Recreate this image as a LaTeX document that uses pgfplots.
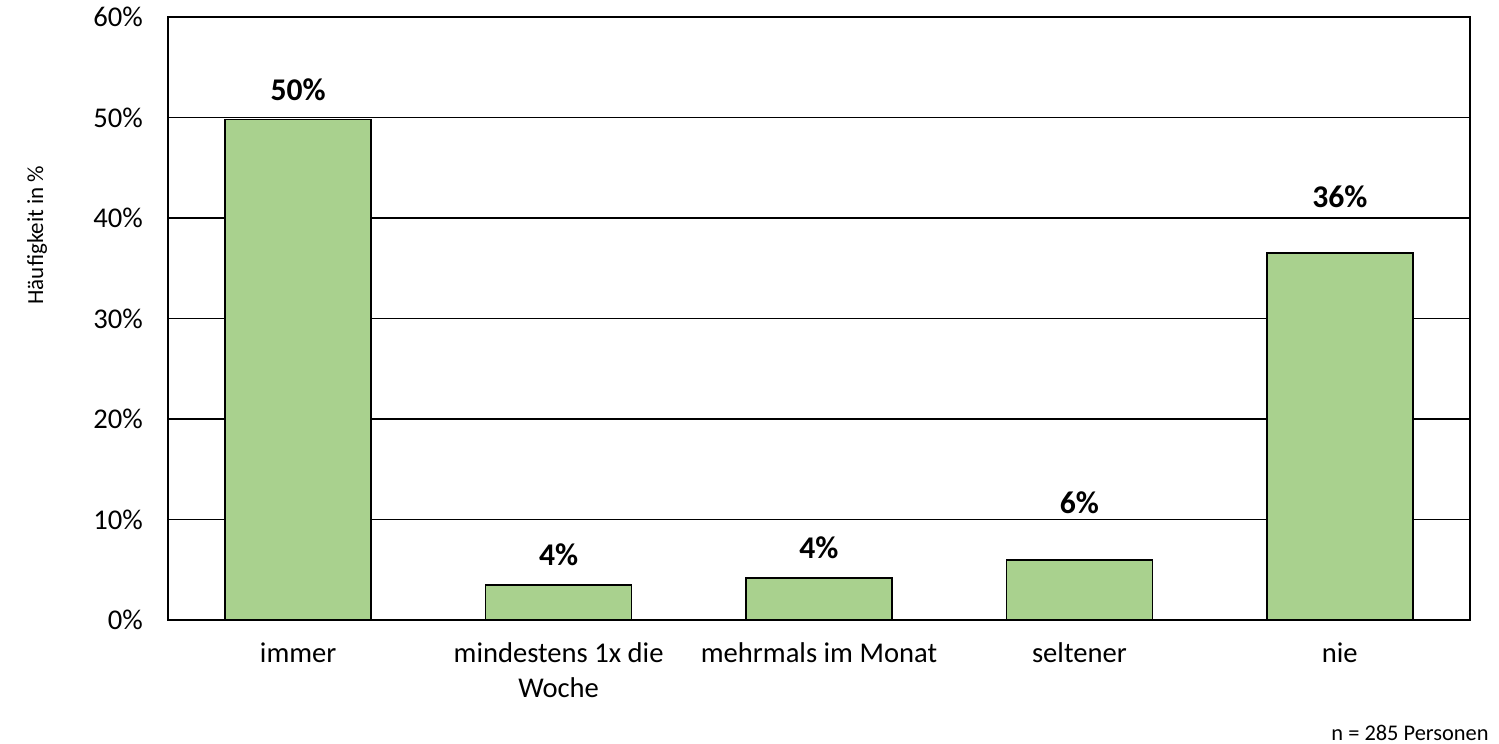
\documentclass[border=0pt]{standalone}
\usepackage{pgfplots}
\pgfplotsset{compat=1.18}
\usepackage{fontspec}
\setmainfont{Carlito}
\definecolor{bargreen}{HTML}{A9D18E}
\begin{document}
\begin{tikzpicture}[x=1pt,y=1pt]
\path[use as bounding box] (0,0) rectangle (749.5,372);
\begin{axis}[
  at={(84pt,62pt)}, anchor=south west,
  scale only axis, width=651pt, height=301.5pt,
  xmin=-0.5, xmax=4.5, ymin=0, ymax=60,
  xtick={0,1,2,3,4},
  xticklabels={immer,{mindestens 1x die\\Woche},mehrmals im Monat,seltener,nie},
  xticklabel style={align=center, font=\fontsize{14.3}{17.5}\selectfont, yshift=-8pt},
  ytick={0,10,20,30,40,50,60},
  yticklabel={\pgfmathprintnumber{\tick}\%},
  yticklabel style={font=\fontsize{14.3}{17}\selectfont, xshift=-9pt},
  /pgf/number format/assume math mode=true,
  major tick length=0pt,
  ymajorgrids,
  major grid style={black, line width=0.7pt},
  axis line style={black, line width=0.8pt},
  ybar, bar width=73pt,
  point meta=explicit symbolic,
  nodes near coords={\pgfplotspointmeta},
  nodes near coords style={anchor=south, inner sep=0pt, yshift=9pt, font=\fontsize{15.8}{18}\selectfont\bfseries},
]
\addplot[fill=bargreen, draw=black, line width=0.8pt] coordinates {
  (0,49.8) [50\%]
  (1,3.5)  [4\%]
  (2,4.2)  [4\%]
  (3,6.0)  [\raisebox{13.5pt}{6\%}]
  (4,36.5) [\raisebox{13.5pt}{36\%}]
};
\end{axis}
\node[rotate=90, font=\fontsize{11.5}{13}\selectfont, inner sep=0pt] at (18.5,254.5) {Häufigkeit in \%};
\node[anchor=east, inner sep=0pt, font=\fontsize{11.2}{13}\selectfont] at (744.5,5.5) {n = 285 Personen};
\end{tikzpicture}
\end{document}
